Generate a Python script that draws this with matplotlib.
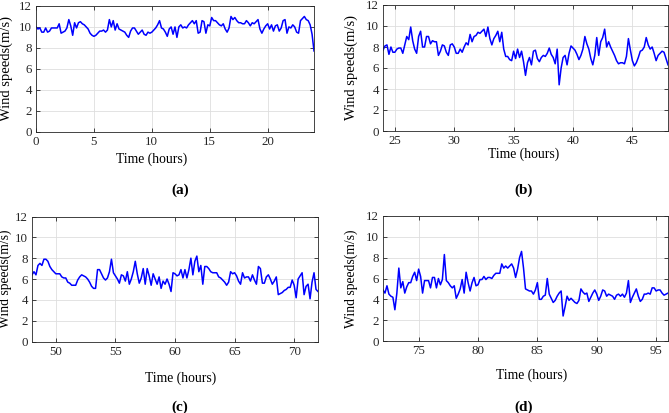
import numpy as np
import matplotlib
matplotlib.use("Agg")
import matplotlib.pyplot as plt

# --------------- data: 10-minute wind speed samples (m/s) ---------------
SAMPLES_PER_HOUR = 6
panel_start_hours = [0, 24, 48, 72]
panel_tags = ["(a)", "(b)", "(c)", "(d)"]
xtick_sets = [[0, 5, 10, 15, 20], [25, 30, 35, 40, 45],
              [50, 55, 60, 65, 70], [75, 80, 85, 90, 95]]
ytick_vals = [0, 2, 4, 6, 8, 10, 12]

speed_a = [10.0, 9.8, 9.9, 9.5, 9.5, 9.9, 9.5, 9.6, 9.9, 9.9, 9.9, 9.9, 10.3, 9.4, 9.5,
           9.6, 9.9, 10.7, 10.1, 9.2, 10.4, 9.9, 10.4, 10.5, 10.3, 10.2, 10.0, 9.8, 9.4, 9.2,
           9.1, 9.2, 9.4, 9.6, 9.6, 9.7, 9.5, 9.7, 10.7, 10.0, 10.6, 9.7, 10.3, 9.8, 9.7,
           9.6, 9.5, 9.2, 9.0, 9.6, 9.9, 9.9, 9.6, 9.3, 9.5, 9.7, 9.3, 9.2, 9.5, 9.4,
           9.5, 9.7, 9.9, 10.2, 10.6, 9.9, 9.8, 9.5, 9.1, 9.8, 10.0, 9.3, 10.0, 9.0, 10.0,
           10.2, 9.9, 10.0, 9.9, 10.2, 10.4, 10.6, 10.3, 10.6, 9.4, 9.5, 10.6, 10.5, 9.4, 10.2,
           10.1, 10.9, 10.6, 10.6, 10.4, 10.2, 10.1, 10.3, 9.8, 9.5, 9.9, 11.0, 10.7, 10.9, 10.6,
           10.4, 10.4, 10.3, 10.3, 10.6, 10.4, 10.1, 10.4, 10.3, 10.5, 10.7, 9.8, 9.4, 9.8, 10.1,
           10.3, 9.8, 10.2, 9.6, 10.1, 10.2, 9.6, 9.9, 10.6, 10.7, 9.4, 10.0, 9.9, 10.2, 10.0,
           9.5, 9.4, 10.6, 10.8, 11.0, 10.7, 10.6, 10.2, 9.3, 7.7]

speed_b = [7.7, 8.1, 8.2, 7.3, 8.0, 7.5, 7.5, 7.8, 7.9, 7.9, 7.4, 8.2, 9.0, 8.7, 9.9,
           8.6, 7.8, 7.4, 9.0, 9.5, 8.0, 8.0, 9.0, 9.0, 8.3, 8.6, 8.5, 8.5, 7.2, 7.6,
           8.2, 8.1, 7.5, 7.2, 8.2, 8.3, 8.0, 7.4, 7.4, 7.8, 7.5, 8.0, 8.4, 8.2, 9.2,
           8.5, 9.0, 9.1, 9.4, 9.3, 9.5, 9.7, 9.0, 9.9, 8.8, 8.2, 8.8, 9.1, 9.5, 8.5,
           9.4, 7.8, 7.1, 7.1, 6.8, 6.7, 7.6, 6.9, 7.8, 7.0, 7.6, 6.6, 5.3, 6.5, 7.0,
           6.3, 7.6, 7.7, 6.9, 6.6, 7.0, 7.2, 7.1, 7.4, 7.9, 7.3, 7.0, 6.4, 7.8, 4.4,
           6.0, 7.0, 7.2, 6.3, 7.4, 8.1, 7.9, 7.7, 7.3, 6.8, 7.2, 7.8, 9.0, 8.3, 7.8,
           6.9, 6.3, 7.2, 8.9, 7.2, 8.5, 8.9, 9.7, 8.0, 8.5, 8.0, 7.6, 7.2, 6.7, 6.4,
           6.5, 6.5, 6.4, 7.1, 8.8, 7.7, 6.7, 6.2, 6.5, 7.0, 7.6, 7.7, 8.0, 8.9, 8.2,
           7.8, 8.0, 7.4, 6.7, 7.2, 7.4, 7.6, 7.5, 6.9, 6.3]

speed_c = [6.4, 6.7, 6.4, 7.3, 7.5, 7.3, 7.9, 7.9, 7.7, 7.2, 6.9, 6.7, 6.5, 6.5, 6.5,
           6.2, 6.1, 6.1, 5.7, 5.6, 5.4, 5.4, 5.4, 5.9, 6.2, 6.4, 6.3, 6.2, 6.0, 5.7,
           5.3, 5.1, 5.1, 6.9, 6.9, 6.5, 6.1, 5.9, 6.1, 6.7, 7.9, 6.6, 6.3, 6.0, 5.6,
           6.4, 6.3, 5.8, 6.7, 5.5, 6.0, 6.7, 7.7, 6.5, 5.6, 6.1, 7.0, 5.5, 7.0, 6.3,
           5.4, 6.5, 6.0, 5.5, 6.2, 5.1, 5.8, 5.5, 6.0, 5.5, 4.8, 6.6, 6.5, 6.3, 6.4,
           6.9, 6.1, 6.9, 6.1, 6.9, 8.0, 6.4, 7.7, 8.2, 6.7, 7.3, 5.5, 7.2, 7.2, 7.0,
           6.7, 6.6, 6.6, 6.6, 6.2, 6.1, 5.9, 5.7, 5.4, 5.7, 6.7, 6.5, 6.6, 6.3, 5.8,
           5.5, 6.6, 6.1, 6.2, 6.2, 5.8, 6.4, 5.9, 5.5, 7.2, 7.0, 5.6, 5.6, 6.2, 6.4,
           6.0, 5.5, 5.8, 6.2, 4.5, 4.6, 4.7, 4.9, 5.0, 5.2, 5.2, 5.9, 5.4, 4.2, 6.0,
           6.3, 6.6, 4.5, 5.3, 5.5, 4.1, 5.7, 6.6, 5.0, 4.8]

speed_d = [4.9, 4.6, 5.3, 4.5, 4.3, 4.2, 3.0, 4.6, 7.0, 5.1, 5.7, 4.6, 5.2, 5.6, 5.6,
           6.2, 6.6, 5.8, 6.9, 6.2, 4.6, 5.8, 5.8, 5.8, 5.1, 6.1, 6.1, 5.1, 6.0, 5.4,
           5.9, 8.3, 5.8, 5.6, 5.3, 5.1, 5.3, 4.1, 4.5, 5.0, 5.9, 4.6, 6.6, 5.6, 4.8,
           5.6, 6.1, 5.3, 5.4, 5.9, 5.9, 6.2, 5.9, 6.1, 6.1, 6.0, 6.3, 6.5, 6.5, 6.5,
           7.4, 7.0, 7.2, 7.0, 7.2, 7.4, 7.0, 6.1, 6.9, 8.0, 8.6, 7.0, 5.0, 4.9, 4.8,
           4.8, 4.5, 4.9, 5.6, 4.0, 4.0, 4.3, 4.4, 6.0, 4.5, 4.1, 3.7, 3.9, 4.3, 4.6,
           4.8, 2.4, 3.3, 4.3, 3.9, 4.1, 3.9, 3.7, 3.6, 3.9, 5.0, 4.7, 4.5, 4.6, 3.8,
           4.2, 4.6, 4.9, 4.5, 3.9, 4.3, 4.9, 4.8, 4.3, 4.5, 4.4, 4.3, 4.0, 4.4, 4.5,
           4.3, 4.5, 4.2, 4.6, 5.8, 3.7, 4.2, 4.6, 5.0, 4.3, 3.8, 4.0, 4.5, 4.5, 4.6,
           4.5, 5.1, 5.1, 4.8, 4.9, 4.9, 4.6, 4.4, 4.5, 4.6]

all_speeds = [speed_a, speed_b, speed_c, speed_d]

# --------------- figure layout (MATLAB-like 2x2 panels) ---------------
plt.rcParams["font.family"] = ["Liberation Serif", "DejaVu Serif"]
W, H = 669, 413
fig = plt.figure(figsize=(W / 100, H / 100), dpi=100)

# axes boxes in pixels: left, top, right, bottom
boxes = [(36, 6, 314, 131.5), (383, 5, 668, 131),
         (32, 216.5, 318, 341.5), (383, 216, 668, 341)]
# ylabel right edge (px), xlabel centre x (px), xlabel top y (px)
ylab_x = [13, 358, 12, 358]
xlab_cx = [152, 524, 181, 532]
xlab_top = [153, 148, 372, 369]
ylab_size = [10.5, 10.5, 9.8, 9.8]
tag_pos = [(180, 190), (524, 190), (180, 407), (524, 407)]

for i in range(4):
    l, t, r, b = boxes[i]
    ax = fig.add_axes([l / W, 1 - b / H, (r - l) / W, (b - t) / H])
    y = np.array(all_speeds[i])
    x = panel_start_hours[i] + np.arange(len(y)) / SAMPLES_PER_HOUR
    ax.plot(x, y, color="#0000ff", lw=1.1)

    ax.set_xlim(panel_start_hours[i], panel_start_hours[i] + 24)
    ax.set_ylim(0, 12)
    ax.set_xticks(xtick_sets[i])
    ax.set_yticks(ytick_vals)
    ax.grid(True, color="#dedede", lw=0.6)
    ax.set_axisbelow(True)
    ax.tick_params(direction="in", top=True, right=True, length=3,
                   width=0.6, labelsize=9.3, colors="#262626", pad=3)
    for sp in ax.spines.values():
        sp.set_color("#262626")
        sp.set_linewidth(0.6)

    ax.set_xlabel("Time (hours)", fontsize=9.8)
    ax.xaxis.set_label_coords((xlab_cx[i] - l) / (r - l), -(xlab_top[i] - b) / (b - t))
    ax.set_ylabel("Wind speeds(m/s)", fontsize=ylab_size[i])
    ax.yaxis.set_label_coords((ylab_x[i] - l) / (r - l), 0.5)

    fig.text(tag_pos[i][0] / W, 1 - tag_pos[i][1] / H, panel_tags[i],
             ha="center", va="center", fontsize=11, fontweight="bold")

fig.savefig("out.png", dpi=100)
